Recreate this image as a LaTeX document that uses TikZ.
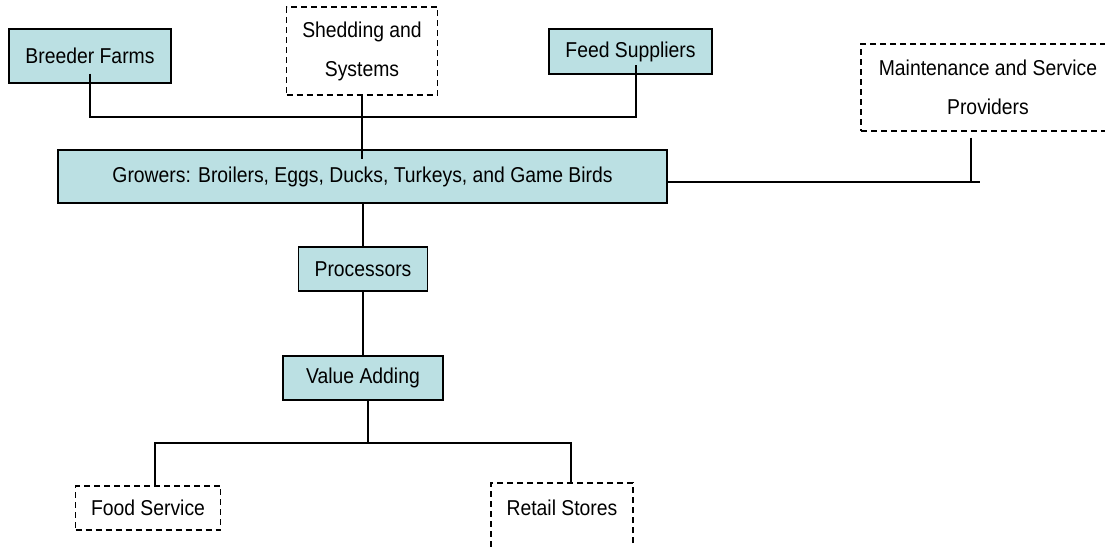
\documentclass[tikz,border=0pt]{standalone}
\usepackage{fontspec}
\setmainfont{Liberation Sans}[FakeStretch=0.9]
\usepackage{xcolor}
\usepackage{tikz}
\usetikzlibrary{calc}
\definecolor{paleteal}{HTML}{BBE0E3}

\begin{document}
\begin{tikzpicture}[
  x=1pt,y=-1pt,
  font=\fontsize{21.5}{39}\selectfont,
  firm/.style={draw=black,line width=1.2pt,fill=paleteal,align=center,inner sep=2pt},
  outside/.style={draw=black,line width=1.2pt,dash pattern=on 6pt off 4pt,fill=white,
                  align=center,inner sep=2pt},
  link/.style={draw=black,line width=1.4pt}
]
\useasboundingbox (0,0) rectangle (1105,546);
\node[firm,minimum width=162pt,minimum height=54pt]    (breeder) at (90,56)    {Breeder Farms};
\node[outside,minimum width=151pt,minimum height=88pt] (shed)    at (362,51)   {Shedding and\\Systems};
\node[firm,minimum width=163pt,minimum height=45pt]    (feed)    at (630.5,51.5) {Feed Suppliers};
\node[outside,minimum width=254pt,minimum height=87pt] (maint)   at (988,87.5) {Maintenance and Service\\Providers};
\node[firm,minimum width=609pt,minimum height=53pt]    (growers) at (362.5,176.5) {Growers: Broilers, Eggs, Ducks, Turkeys, and Game Birds};
\node[firm,minimum width=129pt,minimum height=44pt]    (proc)    at (363,269)  {Processors};
\node[firm,minimum width=160pt,minimum height=44pt]    (value)   at (363,378)  {Value Adding};
\node[outside,minimum width=145pt,minimum height=44pt] (food)    at (148,508)  {Food Service};
\node[outside,minimum width=142pt,minimum height=88pt] (retail)  at (562,527)  {Retail Stores\\\mbox{}};
\coordinate (inputs) at (363,117);
\coordinate (mjoin)  at (971,182);
\coordinate (split)  at (368,443);
\draw[link] ([yshift=10pt]breeder.south) |- (inputs) -| ([xshift=5.5pt,yshift=10pt]feed.south);
\draw[link] (shed.south) -- (shed.south |- growers.north) -- ++(0,10);
\draw[link] ([yshift=-5.5pt]growers.east) -- ([xshift=9pt]mjoin);
\draw[link] ([yshift=-6pt]maint.south -| mjoin) -- (mjoin);
\draw[link] (growers.south -| proc.north) -- (proc.north);
\draw[link] (proc.south) -- (value.north);
\draw[link] (value.south -| split) -- (split);
\draw[link] ([xshift=7pt]food.north) |- (split) -| ([xshift=9pt]retail.north);
\end{tikzpicture}
\end{document}
